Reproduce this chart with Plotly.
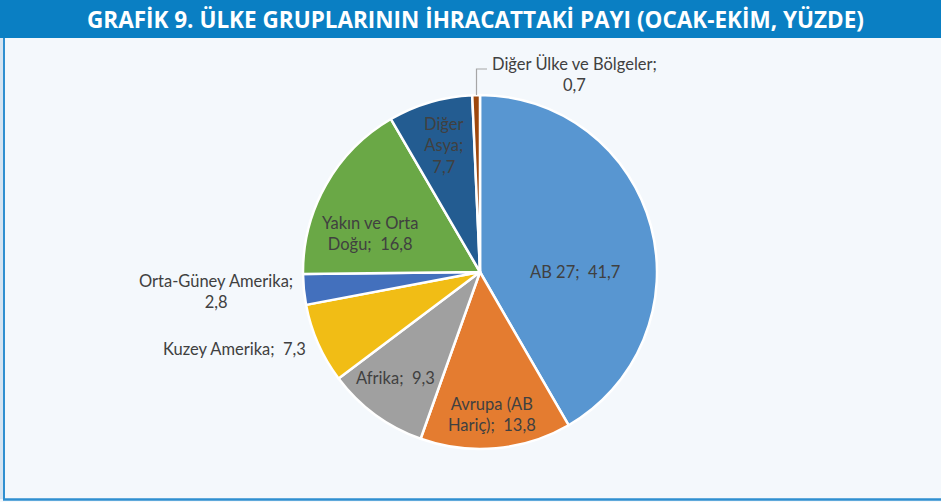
import plotly.graph_objects as go

# ---- data ----
categories = ["AB 27", "Avrupa (AB Hariç)", "Afrika", "Kuzey Amerika",
              "Orta-Güney Amerika", "Yakın ve Orta Doğu", "Diğer Asya",
              "Diğer Ülke ve Bölgeler"]
shares = [41.7, 13.8, 9.3, 7.3, 2.8, 16.8, 7.7, 0.7]
colors = ["#5896d1", "#e47c30", "#a0a0a0", "#f1bd15",
          "#4370bd", "#6aa846", "#235c91", "#9e480e"]
title_text = "GRAFİK 9. ÜLKE GRUPLARININ İHRACATTAKİ PAYI (OCAK-EKİM, YÜZDE)"

# label wrapping as in the original chart
wrapped_names = ["AB 27;  ", "Avrupa (AB<br>Hariç);  ", "Afrika;  ", "Kuzey Amerika;  ",
                 "Orta-Güney Amerika;<br>", "Yakın ve Orta<br>Doğu;  ", "Diğer<br>Asya;<br>",
                 "Diğer Ülke ve Bölgeler;<br>"]
# label centre positions in pixels (layout only)
label_px = [(575, 272), (492, 415), (395, 378), (234, 349),
            (216, 292), (370, 233), (444, 146), (574, 75)]

def fmt(v):
    return f"{v:.1f}".replace(".", ",")

texts = [n + fmt(v) for n, v in zip(wrapped_names, shares)]

W, H = 941, 502
cx, cy, r = 480, 272, 177

def px(x):
    return x / W

def py(y):
    return (H - y) / H

fig = go.Figure(go.Pie(
    labels=categories,
    values=shares,
    textinfo="none",
    sort=False,
    direction="clockwise",
    rotation=0,
    marker=dict(colors=colors, line=dict(color="white", width=2.5)),
    hoverinfo="label+value",
    showlegend=False,
    domain=dict(x=[px(cx - r), px(cx + r)], y=[py(cy + r), py(cy - r)]),
))

label_font = dict(family="Lato, 'Open Sans', sans-serif", size=16.5, color="#404040")
annotations = [
    dict(text="<b>" + title_text + "</b>", xref="paper", yref="paper",
         x=px(475), y=py(20), xanchor="center", yanchor="middle", showarrow=False,
         font=dict(family="'Open Sans', sans-serif", size=22.5, color="white")),
]
for t, (lx, ly) in zip(texts, label_px):
    annotations.append(dict(text=t, xref="paper", yref="paper", x=px(lx), y=py(ly),
                            xanchor="center", yanchor="middle", align="center",
                            showarrow=False, font=label_font))

fig.update_layout(
    width=W, height=H,
    margin=dict(l=0, r=0, t=0, b=0),
    paper_bgcolor="#f4f8fc",
    plot_bgcolor="#f4f8fc",
    shapes=[
        dict(type="rect", xref="paper", yref="paper", x0=0, x1=1, y0=py(38), y1=1,
             fillcolor="#0a7fc3", line=dict(width=0), layer="below"),
        dict(type="rect", xref="paper", yref="paper", x0=0, x1=px(3), y0=py(499), y1=py(38),
             fillcolor="#d5e4f1", line=dict(width=0), layer="below"),
        dict(type="line", xref="paper", yref="paper", x0=px(4), x1=px(4), y0=py(500), y1=py(38),
             line=dict(color="#2f8fd0", width=2)),
        dict(type="line", xref="paper", yref="paper", x0=px(3), x1=1, y0=py(499.5), y1=py(499.5),
             line=dict(color="#2f8fd0", width=2.5)),
        # leader line for the small slice
        dict(type="path", xref="paper", yref="paper",
             path=f"M {px(476.5)},{py(95)} L {px(476.5)},{py(69)} L {px(487)},{py(69)}",
             line=dict(color="#a6a6a6", width=1.2)),
    ],
    annotations=annotations,
)

fig.write_html("out.html", config={"displayModeBar": False},
               post_script="document.body.style.margin='0px';document.body.style.background='#f4f8fc';")
